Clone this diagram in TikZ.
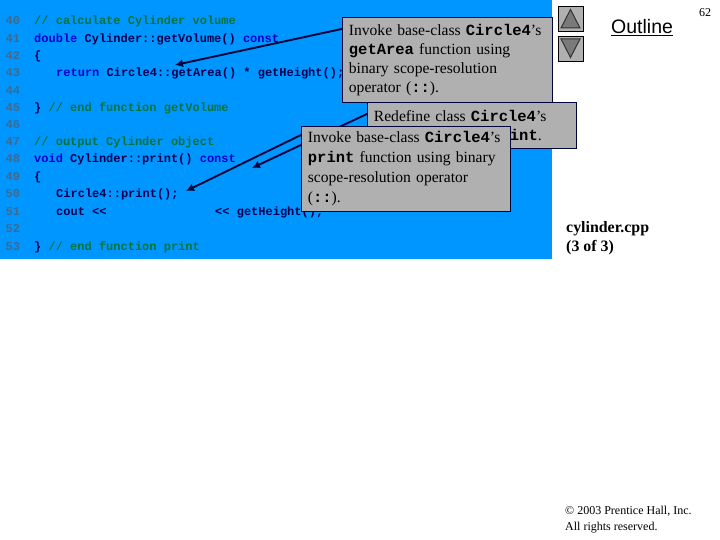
\documentclass[tikz,border=0pt]{standalone}
\usepackage{fontspec}
\setmainfont{Liberation Serif}
\setsansfont{Liberation Sans}
\setmonofont{Liberation Mono}
\definecolor{slideblue}{HTML}{0096FF}
\definecolor{boxgray}{HTML}{B0B0B0}
\definecolor{cmtgreen}{HTML}{00733A}
\definecolor{kwblue}{HTML}{0000CC}
\definecolor{idnavy}{HTML}{000050}
\definecolor{numgray}{HTML}{3F6A90}
\definecolor{edgenavy}{HTML}{00063A}
\newcommand{\cmt}[1]{\textcolor{cmtgreen}{#1}}
\newcommand{\kw}[1]{\textcolor{kwblue}{#1}}
\newcommand{\cd}[1]{{\fontsize{15.5}{19}\selectfont\ttfamily\bfseries #1}}
\usetikzlibrary{arrows.meta}
\tikzset{
  codeline/.style={anchor=base west,inner sep=0pt,text=idnavy,font=\fontsize{12}{14}\selectfont\ttfamily\bfseries},
  lineno/.style={codeline,text=numgray},
  callout/.style={draw=edgenavy,line width=0.8pt,fill=boxgray,anchor=north west,inner xsep=6.5pt,inner ysep=0pt,
    align=left,font=\fontsize{15.6}{19}\selectfont,text=black},
  pointer/.style={draw=edgenavy,line width=1.9pt,-{Latex[length=8pt,width=8pt]}},
  navbtn/.style={draw=black,line width=0.8pt,fill=boxgray},
  navtri/.style={draw=black!80,line width=1pt,fill=black!52},
}
\begin{document}
\begin{tikzpicture}[x=1pt,y=-1pt]
\useasboundingbox (0,0) rectangle (720,540);
\fill[white] (0,0) rectangle (720,540);
\fill[slideblue] (0,0) rectangle (552,259);
% line numbers
\node[lineno] (n40) at (5.5,25) {40};
\node[lineno] (n41) at (5.5,42.5) {41};
\node[lineno] (n42) at (5.5,59.5) {42};
\node[lineno] (n43) at (5.5,77) {43};
\node[lineno] (n44) at (5.5,94.5) {44};
\node[lineno] (n45) at (5.5,111.5) {45};
\node[lineno] (n46) at (5.5,129) {46};
\node[lineno] (n47) at (5.5,146) {47};
\node[lineno] (n48) at (5.5,163) {48};
\node[lineno] (n49) at (5.5,181) {49};
\node[lineno] (n50) at (5.5,198) {50};
\node[lineno] (n51) at (5.5,215) {51};
\node[lineno] (n52) at (5.5,233) {52};
\node[lineno] (n53) at (5.5,250) {53};
% code
\node[codeline] (c40) at (34,25) {\cmt{// calculate Cylinder volume}};
\node[codeline] (c41) at (34,42.5) {\kw{double} Cylinder::getVolume() \kw{const}};
\node[codeline] (c42) at (34,59.5) {\{};
\node[codeline] (c43) at (56,77) {\kw{return} Circle4::getArea() * getHeight();};
\node[codeline] (c45) at (34,111.5) {\} \cmt{// end function getVolume}};
\node[codeline] (c47) at (34,146) {\cmt{// output Cylinder object}};
\node[codeline] (c48) at (34,163) {\kw{void} Cylinder::print() \kw{const}};
\node[codeline] (c49) at (34,181) {\{};
\node[codeline] (c50) at (56,198) {Circle4::print();};
\node[codeline] (c51a) at (56,215) {cout <<};
\node[codeline] (c51b) at (215,215) {<< getHeight();};
\node[codeline] (c53) at (34,250) {\} \cmt{// end function print}};
% connector ends
\coordinate (tipA) at (175,65);
\coordinate (tipB) at (252,168);
\coordinate (tipC) at (186,191);
\coordinate (startA) at (344,28.5);
\coordinate (startB) at (369,113);
\coordinate (startC) at (303,134);
\draw[pointer] (startA) -- (tipA);
\draw[pointer] (startB) -- (tipB);
\draw[pointer] (startC) -- (tipC);
% callouts
\node[callout,text width=197pt,minimum height=85pt] (boxA) at (342,17)
  {Invoke base-class \cd{Circle4}’s\\ \cd{getArea} function using\\ binary scope-resolution\\ operator (\cd{::}).};
\node[callout,text width=196pt,minimum height=46pt] (boxB) at (367,102)
  {Redefine class \cd{Circle4}’s\\ \hspace*{136pt}\cd{int}.};
\node[callout,text width=196pt,minimum height=85pt] (boxC) at (301,126)
  {Invoke base-class \cd{Circle4}’s\\[1pt] \cd{print} function using binary\\[1pt] scope-resolution operator\\[1pt] (\cd{::}).};
% navigation
\draw[navbtn] (558,6.5) rectangle (583,31);
\draw[navtri] (570.5,9.5) -- (580,28) -- (561,28) -- cycle;
\draw[navbtn] (558,36.5) rectangle (583,61);
\draw[navtri] (561,39) -- (580,39) -- (570.5,57.5) -- cycle;
% side texts
\node[anchor=base west,inner sep=0pt,font=\fontsize{19.5}{22}\selectfont\sffamily] (outline) at (611,34) {\underline{Outline}};
\node[anchor=base west,inner sep=0pt,font=\fontsize{12}{14}\selectfont] (page) at (699,17) {62};
\node[anchor=base west,inner sep=0pt,font=\fontsize{15.9}{17}\selectfont\bfseries] (file) at (566,232.5) {cylinder.cpp};
\node[anchor=base west,inner sep=0pt,font=\fontsize{15.9}{17}\selectfont\bfseries] (part) at (566,251.5) {(3 of 3)};
\node[anchor=base west,inner sep=0pt,font=\fontsize{12}{14}\selectfont] (copy) at (565,514) {© 2003 Prentice Hall, Inc.};
\node[anchor=base west,inner sep=0pt,font=\fontsize{12}{14}\selectfont] (rights) at (565,530) {All rights reserved.};
\end{tikzpicture}
\end{document}
